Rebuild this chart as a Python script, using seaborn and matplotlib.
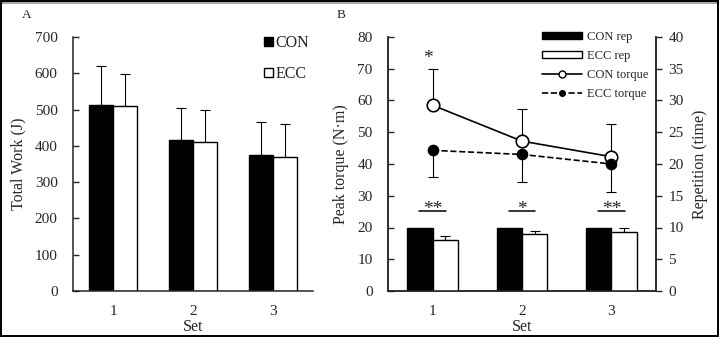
import numpy as np
import pandas as pd
import seaborn as sns
import matplotlib.pyplot as plt
from matplotlib.patches import Patch, Rectangle
from matplotlib.lines import Line2D

# ---------------- data ----------------
sets = ["1", "2", "3"]
# Panel A: total work (J)
work_con = [513, 417, 374]
work_ecc = [511, 412, 370]
work_con_err = [108, 86, 92]
work_ecc_err = [87, 87, 89]
# Panel B: repetitions (right axis)
rep_con = [10.0, 10.0, 10.0]
rep_ecc = [8.1, 9.0, 9.35]
rep_ecc_err = [0.55, 0.45, 0.5]
# Panel B: peak torque (left axis)
torque_con = [58.5, 47.2, 42.3]
torque_ecc = [44.3, 43.0, 40.0]
torque_con_err = [11.5, 10.0, 10.2]
torque_ecc_err = [8.3, 8.7, 8.8]
sig_marks = ["**", "*", "**"]

sns.set_style("ticks")
plt.rcParams["font.family"] = ["Liberation Serif", "DejaVu Serif"]
plt.rcParams["axes.linewidth"] = 1.1

W, H = 719, 337
fig = plt.figure(figsize=(W / 100, H / 100), dpi=100)

def fx(px):
    return px / W

def fy(py):
    return 1 - py / H

axA = fig.add_axes([fx(73), fy(291), fx(313) - fx(73), fy(37) - fy(291)])
axB = fig.add_axes([fx(388), fy(291), fx(656) - fx(388), fy(37) - fy(291)])
axB2 = axB.twinx()

# ---------------- Panel A ----------------
dfA = pd.DataFrame({
    "Set": sets * 2,
    "work": work_con + work_ecc,
    "group": ["CON"] * 3 + ["ECC"] * 3,
})
sns.barplot(data=dfA, x="Set", y="work", hue="group", palette=["black", "white"],
            edgecolor="black", linewidth=1.0, width=0.59, saturation=1,
            errorbar=None, legend=False, ax=axA)
barsA = [p for p in axA.patches if isinstance(p, Rectangle)][:6]
xs = [p.get_x() + p.get_width() / 2 for p in barsA]
errA = work_con_err + work_ecc_err
valsA = work_con + work_ecc
axA.errorbar(xs, valsA, yerr=[[0] * 6, errA], fmt="none", ecolor="black",
             elinewidth=0.8, capsize=3.5, capthick=0.8, zorder=1)
for p in barsA:
    p.set_zorder(2)
axA.set_xlim(-0.5, 2.5)
axA.set_ylim(0, 700)
axA.set_yticks(np.arange(0, 701, 100))
axA.set_ylabel("Total Work (J)", fontsize=11.5, labelpad=6)
axA.set_xlabel("Set", fontsize=11.5, labelpad=1)
axA.tick_params(axis="y", direction="in", length=4, width=1, labelsize=11, pad=11)
axA.tick_params(axis="x", length=0, labelsize=11, pad=10)
sns.despine(ax=axA)
hA = [Patch(facecolor="black", edgecolor="black", lw=1),
      Patch(facecolor="white", edgecolor="black", lw=1)]
fig.legend(hA, ["CON", "ECC"], loc="upper left", bbox_to_anchor=(fx(264), fy(35)),
           frameon=False, fontsize=11.5, handlelength=0.55, handleheight=0.55,
           handletextpad=0.15, labelspacing=0.95, borderpad=0, borderaxespad=0)

# ---------------- Panel B ----------------
dfR = pd.DataFrame({
    "Set": sets * 2,
    "rep": rep_con + rep_ecc,
    "group": ["CON rep"] * 3 + ["ECC rep"] * 3,
})
sns.barplot(data=dfR, x="Set", y="rep", hue="group", palette=["black", "white"],
            edgecolor="black", linewidth=1.0, width=0.57, saturation=1,
            errorbar=None, legend=False, ax=axB2)
barsB = [p for p in axB2.patches if isinstance(p, Rectangle)][:6]
xsB = [p.get_x() + p.get_width() / 2 for p in barsB]
axB2.errorbar(xsB[3:], rep_ecc, yerr=[[0] * 3, rep_ecc_err], fmt="none",
              ecolor="black", elinewidth=0.8, capsize=3.5, capthick=0.8, zorder=1)
for p in barsB:
    p.set_zorder(2)

dfT = pd.DataFrame({"Set": sets, "con": torque_con, "ecc": torque_ecc})
sns.pointplot(data=dfT, x="Set", y="con", color="black", markers="o", linestyles="-",
              errorbar=None, ax=axB, markersize=9, linewidth=1.2)
line_con = axB.lines[-1]
line_con.set_markerfacecolor("white")
line_con.set_markeredgewidth(1.2)
line_con.set_zorder(4)
sns.pointplot(data=dfT, x="Set", y="ecc", color="black", markers="o", linestyles="--",
              errorbar=None, ax=axB, markersize=7.5, linewidth=1.2)
line_ecc = axB.lines[-1]
line_ecc.set_zorder(4)
xp = list(line_con.get_xdata())
axB.errorbar(xp, torque_con, yerr=[[0] * 3, torque_con_err], fmt="none", ecolor="black",
             elinewidth=0.8, capsize=3.5, capthick=0.8, zorder=3)
axB.errorbar(xp, torque_ecc, yerr=[torque_ecc_err, [0] * 3], fmt="none", ecolor="black",
             elinewidth=0.8, capsize=3.5, capthick=0.8, zorder=3)

# significance marks
for x, m in zip(xp, sig_marks):
    axB.plot([x - 0.15, x + 0.15], [25.2, 25.2], color="black", lw=1.1)
    axB.text(x, 24.4, m, ha="center", va="baseline", fontsize=14)
axB.text(xp[0] - 0.05, 71.9, "*", ha="center", va="baseline", fontsize=14)

axB.set_xlim(-0.5, 2.5)
axB.set_ylim(0, 80)
axB.set_yticks(np.arange(0, 81, 10))
axB2.set_ylim(0, 40)
axB2.set_yticks(np.arange(0, 41, 5))
axB.set_ylabel("Peak torque (N\u00b7m)", fontsize=11.5, labelpad=6)
axB2.set_ylabel("Repetition (time)", fontsize=11.5, labelpad=6)
axB.set_xlabel("Set", fontsize=11.5, labelpad=1)
axB2.set_xlabel("")
axB.tick_params(axis="y", direction="in", length=4, width=1, labelsize=11, pad=11)
axB.tick_params(axis="x", length=0, labelsize=11, pad=10)
axB2.tick_params(axis="y", direction="out", length=4, width=1, labelsize=11, pad=5)
for a in (axB, axB2):
    a.spines["top"].set_visible(False)

hB = [Patch(facecolor="black", edgecolor="black", lw=1),
      Patch(facecolor="white", edgecolor="black", lw=1),
      Line2D([], [], color="black", lw=1.2, marker="o", mfc="white", mec="black", ms=5),
      Line2D([], [], color="black", lw=1.2, ls="--", marker="o", mfc="black", mec="black", ms=4)]
fig.legend(hB, ["CON rep", "ECC rep", "CON torque", "ECC torque"], loc="upper left",
           bbox_to_anchor=(fx(542), fy(31)), frameon=False, fontsize=9,
           handlelength=3.2, handleheight=0.45, handletextpad=0.4, labelspacing=0.55,
           borderpad=0, borderaxespad=0)

# panel letters
fig.text(fx(27), fy(15), "A", fontsize=9.5, ha="center", va="center")
fig.text(fx(341), fy(15), "B", fontsize=9.5, ha="center", va="center")

# figure frame
fig.patches.append(Rectangle((0, fy(4)), 1, 4 / H, transform=fig.transFigure,
                             facecolor="#a6a6a6", edgecolor="none", zorder=0))
fig.patches.append(Rectangle((0.001, 0.003), 0.997, 0.994, transform=fig.transFigure,
                             fill=False, edgecolor="black", lw=1.4, zorder=0))

fig.savefig("out.png", dpi=100)
